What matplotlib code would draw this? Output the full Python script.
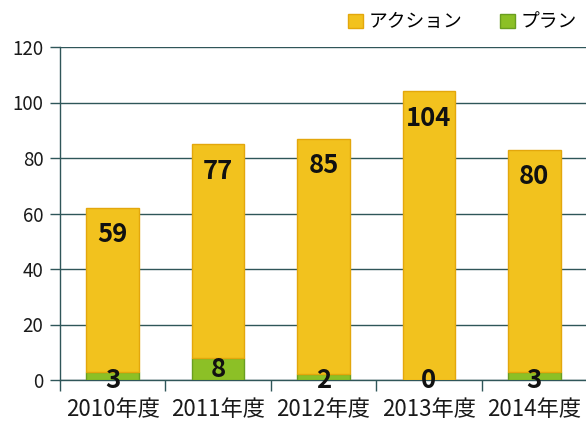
import numpy as np
import matplotlib
matplotlib.use('Agg')
import matplotlib.pyplot as plt
from matplotlib.patches import Patch

plt.rcParams['font.family'] = ['Noto Sans CJK JP', 'DejaVu Sans']

# data
years = ['2010年度', '2011年度', '2012年度', '2013年度', '2014年度']
plan = [3, 8, 2, 0, 3]
action = [59, 77, 85, 104, 80]
series_names = ['アクション', 'プラン']

yellow = '#F2C21E'
yellow_edge = '#E3A70C'
green = '#8CC026'
green_edge = '#6A9E20'
grid_col = '#2F5659'

fig = plt.figure(figsize=(5.86, 4.21), dpi=100)
ax = fig.add_axes([60 / 586, 41 / 421, 527 / 586, 333 / 421])

x = np.arange(len(years))
w = 0.5
ax.bar(x, plan, width=w, color=green, edgecolor=green_edge, linewidth=1, zorder=3)
ax.bar(x, action, bottom=plan, width=w, color=yellow, edgecolor=yellow_edge,
       linewidth=1, zorder=3)

ax.set_xlim(-0.5, len(years) - 0.5)
ax.set_ylim(0, 120)
ax.set_yticks(range(0, 121, 20))
ax.yaxis.grid(True, color=grid_col, linewidth=1.0, zorder=0)
ax.set_axisbelow(True)

for s in ['top', 'right']:
    ax.spines[s].set_visible(False)
ax.spines['left'].set_color(grid_col)
ax.spines['bottom'].set_color(grid_col)
ax.spines['left'].set_linewidth(1.0)
ax.spines['bottom'].set_linewidth(1.0)

ax.tick_params(axis='y', length=7, width=1.0, color=grid_col, labelsize=13.5,
               pad=5, labelcolor='#1a1a1a')
ax.set_xticks(x)
ax.set_xticklabels(years, fontsize=16, color='#1a1a1a')
ax.tick_params(axis='x', which='major', length=0, pad=13)
ax.set_xticks(np.arange(-0.5, len(years), 1.0), minor=True)
ax.tick_params(axis='x', which='minor', length=8, width=1.0, color=grid_col)

# value labels
px = 120 / 333.0
for i in range(len(years)):
    tot = plan[i] + action[i]
    ax.text(x[i], tot - 27 * px, str(action[i]), ha='center', va='center',
            fontsize=18.5, fontweight='bold', color='#111111', zorder=5)
    yb = max(plan[i] - 12 * px, 0)
    ax.text(x[i], yb, str(plan[i]), ha='center', va='center',
            fontsize=18.5, fontweight='bold', color='#111111', zorder=5)

handles = [Patch(facecolor=yellow, edgecolor=yellow_edge),
           Patch(facecolor=green, edgecolor=green_edge)]
fig.legend(handles, series_names, loc='center right', bbox_to_anchor=(1.0, 1 - 22 / 421),
           ncol=2, frameon=False, fontsize=13.5, handlelength=0.8, handleheight=0.8,
           handletextpad=0.3, columnspacing=2.0, borderaxespad=0.1)

fig.savefig('out.png', dpi=100)
